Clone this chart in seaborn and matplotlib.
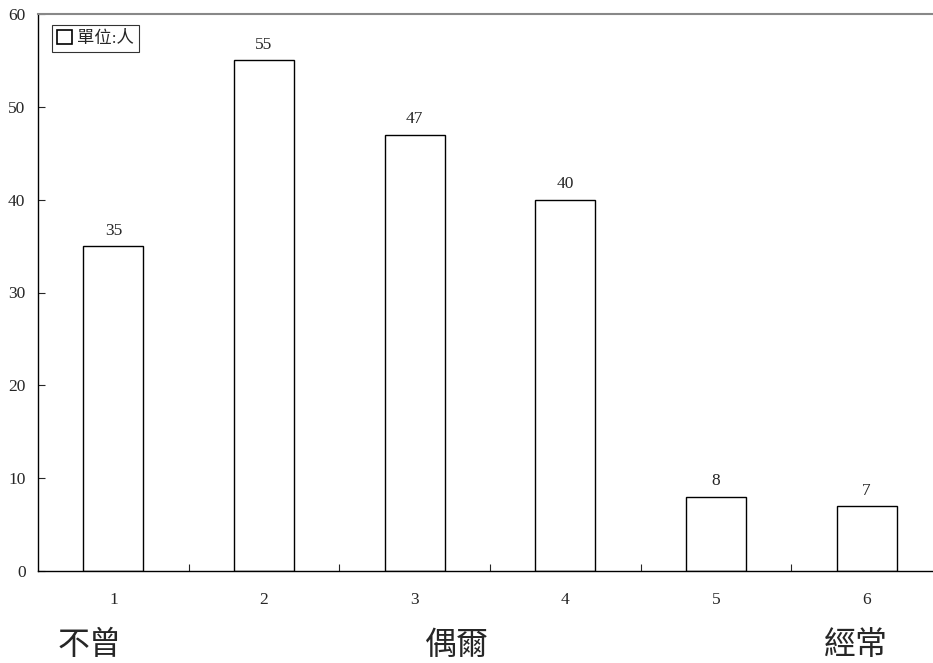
import matplotlib.pyplot as plt
import matplotlib.patches as mpatches
import seaborn as sns
import pandas as pd

categories = ["1", "2", "3", "4", "5", "6"]
counts = [35, 55, 47, 40, 8, 7]
yticks = [0, 10, 20, 30, 40, 50, 60]
scale_labels = ["不曾", "偶爾", "經常"]
legend_label = "單位:人"

sns.set_style("white")
plt.rcParams['font.family'] = ['Liberation Serif', 'Noto Sans CJK TC']

df = pd.DataFrame({"cat": categories, "count": counts})

fig = plt.figure(figsize=(9.33, 6.63), dpi=100)
ax = fig.add_axes([38/933, 92/663, 904/933, 557/663])
sns.barplot(data=df, x="cat", y="count", ax=ax, color="white", width=0.4,
            edgecolor="black", linewidth=1, saturation=1)

for i, v in enumerate(counts):
    ax.text(i, v + 0.8, str(v), ha="center", va="bottom", fontsize=12.5)

ax.set_xlim(-0.5, 5.5)
ax.set_ylim(0, 60)
ax.set_yticks(yticks)
ax.set_xlabel("")
ax.set_ylabel("")
ax.set_xticks([0.5, 1.5, 2.5, 3.5, 4.5], minor=True)
ax.tick_params(axis="x", which="major", length=0, pad=15, labelsize=12.5)
ax.tick_params(axis="x", which="minor", direction="in", length=5, width=0.8, bottom=True)
ax.tick_params(axis="y", direction="in", length=5, width=0.8, left=True, labelsize=12.5, pad=9)

for s in ["left", "bottom"]:
    ax.spines[s].set_color("black")
    ax.spines[s].set_linewidth(1)
ax.spines["top"].set_color("#888888")
ax.spines["top"].set_linewidth(1.5)
ax.spines["right"].set_visible(False)

handle = mpatches.Patch(facecolor="white", edgecolor="black", linewidth=1.2)
leg = ax.legend([handle], [legend_label], loc="upper left", bbox_to_anchor=(0.0155, 0.98),
                frameon=True, fancybox=False, handlelength=0.85, handleheight=0.85,
                handletextpad=0.3, borderpad=0.3, fontsize=12.5, borderaxespad=0)
leg.get_frame().set_edgecolor("black")
leg.get_frame().set_linewidth(0.8)

for x_pos, lab in zip([-0.155, 2.28, 4.93], scale_labels):
    ax.text(x_pos, -0.133, lab, transform=ax.get_xaxis_transform(), ha="center", va="center",
            fontsize=23, family=['Noto Sans CJK TC'])

fig.savefig("out.png", dpi=100)
